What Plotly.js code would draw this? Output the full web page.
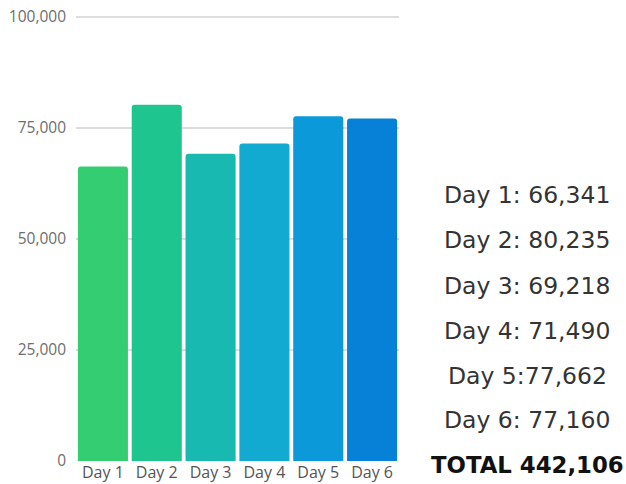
<!DOCTYPE html>
<html><head><meta charset="utf-8">
<script src="https://cdn.plot.ly/plotly-3.0.1.min.js"></script>
<style>html,body{margin:0;padding:0;background:#fff}#chart{width:626px;height:484px}</style>
</head><body><div id="chart"></div>
<script>
const days = ["Day 1","Day 2","Day 3","Day 4","Day 5","Day 6"];
const visitors = [66341, 80235, 69218, 71490, 77662, 77160];
const barColors = ["#35cd72","#1ec58f","#17b9b1","#12aad0","#0b99da","#0781d8"];
const summaryLabels = ["Day 1: 66,341","Day 2: 80,235","Day 3: 69,218","Day 4: 71,490","Day 5:77,662","Day 6: 77,160"];
const totalLabel = "TOTAL 442,106";
const yTicks = [0, 25000, 50000, 75000, 100000];
const yTickText = ["0","25,000","50,000","75,000","100,000"];

const W = 626, H = 484;
const plotL = 76, plotR = 399, plotT = 13, plotB = 461;
const yTop = 100000 * (plotB - plotT) / 444;  // so that 100,000 sits at y=17
const pw = plotR - plotL, ph = plotB - plotT;
const textCx = 527;
const linePx = [194.5, 240, 285.5, 330.5, 376, 419.5];
const totalPx = 464.5;

const annotations = summaryLabels.map((t, i) => ({
  text: t, xref: 'paper', yref: 'paper',
  x: (textCx - plotL) / pw, y: (plotB - linePx[i]) / ph,
  xanchor: 'center', yanchor: 'middle', showarrow: false,
  font: {family: 'DejaVu Sans', size: 23.5, color: '#333333'}
}));
annotations.push({
  text: '<b>' + totalLabel + '</b>', xref: 'paper', yref: 'paper',
  x: (textCx - plotL) / pw, y: (plotB - totalPx) / ph,
  xanchor: 'center', yanchor: 'middle', showarrow: false,
  font: {family: 'DejaVu Sans', size: 22.8, color: '#111111'}
});

Plotly.newPlot('chart', [{
  type: 'bar', x: days, y: visitors,
  marker: {color: barColors, cornerradius: 3, line: {width: 0}},
  hoverinfo: 'skip'
}], {
  width: W, height: H,
  margin: {l: plotL, r: W - plotR, t: plotT, b: H - plotB, pad: 0},
  paper_bgcolor: '#ffffff', plot_bgcolor: '#ffffff',
  bargap: 0.07,
  showlegend: false,
  xaxis: {
    showgrid: false, zeroline: false, showline: false, ticks: '',
    tickfont: {family: 'Open Sans', size: 16, color: '#555555'},
    ticklabelstandoff: 0
  },
  yaxis: {
    range: [0, yTop], tickvals: yTicks, ticktext: yTickText,
    showgrid: true, gridcolor: '#dddddd', gridwidth: 1.5,
    zeroline: false, showline: false, ticks: '',
    tickfont: {family: 'Open Sans', size: 15.5, color: '#6e6e6e'},
    ticklabelstandoff: 9
  },
  annotations: annotations
}, {staticPlot: true});
</script></body></html>
